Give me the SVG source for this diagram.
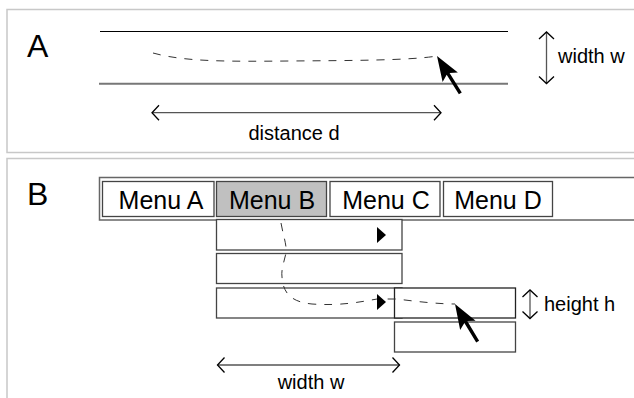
<svg xmlns="http://www.w3.org/2000/svg" width="634" height="398" viewBox="0 0 634 398">
<style>
  .panel{fill:#fff;stroke:#c8c8c8;stroke-width:1.5}
  .lbl{font-family:"Liberation Sans",Arial,sans-serif;fill:#000}
  .big{font-size:32px}
  .menu{font-size:25px;text-anchor:middle}
  .dim{font-size:20px}
  .box{fill:#fff;stroke:#444;stroke-width:1.3}
  .dash{fill:none;stroke:#333;stroke-width:1;stroke-dasharray:8 8}
  .dimline{stroke:#555;stroke-width:1.3;fill:none;marker-start:url(#chev);marker-end:url(#chev)}
</style>
<defs>
  <marker id="chev" markerUnits="userSpaceOnUse" viewBox="-10 -10 12 20" refX="0" refY="0" markerWidth="12" markerHeight="20" orient="auto-start-reverse">
    <path d="M-7,-7.5 L0,0 L-7,7.5" fill="none" stroke="#000" stroke-width="1.3"/>
  </marker>
  <path id="cursor" d="M0,0 L-9,25 L-1.7,21 L-1.7,44 L1.7,44 L1.7,21 L9,25 Z" fill="#000"/>
</defs>
<rect width="634" height="398" fill="#fff"/>

<g id="panelA">
  <rect class="panel" x="7" y="9.5" width="640" height="143"/>
  <text class="lbl big" x="27" y="57">A</text>
</g>
<g id="pathA">
  <line x1="100" y1="31.5" x2="508" y2="31.5" stroke="#000" stroke-width="1.2"/>
  <line x1="99" y1="83.7" x2="508" y2="83.7" stroke="#777" stroke-width="2"/>
</g>

<g id="panelB">
  <rect class="panel" x="7" y="158.5" width="640" height="260"/>
  <text class="lbl big" x="27" y="205">B</text>
</g>
<g id="menubar">
  <rect x="99.5" y="177.5" width="600" height="42.5" fill="#fff" stroke="#666" stroke-width="1.5"/>
</g>
<g id="menuA">
  <rect class="box" x="102.5" y="181.5" width="111.5" height="35"/>
  <text class="lbl menu" x="161" y="209">Menu A</text>
</g>
<g id="menuB">
  <rect class="box" x="216.5" y="181.5" width="110" height="35" fill="#c0c0c0" style="fill:#c0c0c0"/>
  <text class="lbl menu" x="272" y="209">Menu B</text>
</g>
<g id="menuC">
  <rect class="box" x="330" y="181.5" width="110" height="35"/>
  <text class="lbl menu" x="386" y="209">Menu C</text>
</g>
<g id="menuD">
  <rect class="box" x="443.5" y="181.5" width="109" height="35"/>
  <text class="lbl menu" x="498" y="209">Menu D</text>
</g>
<g id="item1">
  <rect class="box" x="216.5" y="219.5" width="185.5" height="30.5"/>
  <polygon points="377,227 386,235 377,243" fill="#000"/>
</g>
<g id="item2">
  <rect class="box" x="216.5" y="253.5" width="185.5" height="30"/>
</g>
<g id="item3">
  <rect class="box" x="216.5" y="288" width="185.5" height="30"/>
</g>
<g id="sub1">
  <rect class="box" x="394.5" y="288" width="121" height="30" style="stroke:#222"/>
</g>
<g id="sub2">
  <rect class="box" x="394.5" y="322" width="121" height="30"/>
</g>

<g id="connectors">
  <path class="dash" d="M153,53 C185,62 230,61.5 290,61 C350,60.5 410,60.5 437,56"/>
  <path class="dash" d="M281,223 C283,235 287,245 286,253 C284,262 281,270 282,277 C283,292 290,302 312,304 C340,306 360,302 377,299 L397,299 C420,302 440,304 455,304"/>
  <polygon points="377,294 386,302 377,310" fill="#000"/>
  <line class="dimline" x1="546.5" y1="32" x2="546.5" y2="83.5"/>
  <line class="dimline" x1="152" y1="112.7" x2="441" y2="112.7"/>
  <line class="dimline" x1="217.5" y1="365" x2="399.5" y2="365"/>
  <line class="dimline" x1="530" y1="290" x2="530" y2="318.5"/>
  <use href="#cursor" transform="translate(437,56) rotate(-32)"/>
  <use href="#cursor" transform="translate(455,304) rotate(-31)"/>
</g>

<g id="labels">
  <text class="lbl dim" x="558" y="63">width w</text>
  <text class="lbl dim" x="294" y="140" text-anchor="middle">distance d</text>
  <text class="lbl dim" x="311" y="389" text-anchor="middle">width w</text>
  <text class="lbl dim" x="544" y="311">height h</text>
</g>
</svg>
